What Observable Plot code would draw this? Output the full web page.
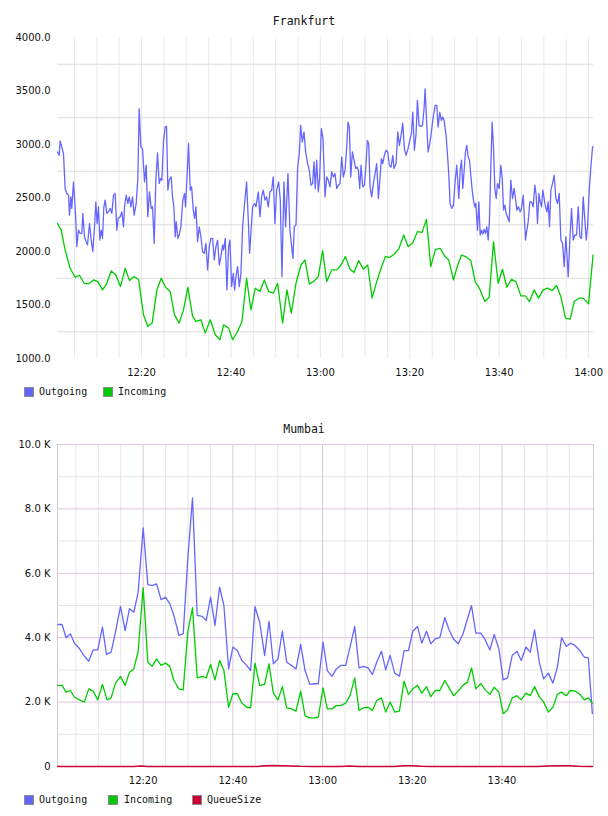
<!DOCTYPE html>
<html><head><meta charset="utf-8">
<script src="https://cdn.jsdelivr.net/npm/d3@7"></script>
<script src="https://cdn.jsdelivr.net/npm/@observablehq/plot@0.6"></script>
<style>
body{margin:0;background:#fff;width:608px;height:816px;position:relative;overflow:hidden;font-family:"DejaVu Sans Mono",monospace;color:#111;}
.title{position:absolute;left:0;width:608px;text-align:center;font-size:11.5px;line-height:14px;}
.chart{position:absolute;left:0;}
.sw{position:absolute;width:8px;height:8px;border:1px solid #8a8a8a;}
.lt{position:absolute;font-size:10px;line-height:10px;white-space:pre;}
</style></head><body>
<div class="title" style="top:14px">Frankfurt</div>
<div id="c1" class="chart" style="top:30px"></div>
<div class="sw" style="left:24px;top:387px;background:#6666ff"></div><div class="lt" style="left:39px;top:387px">Outgoing</div>
<div class="sw" style="left:103px;top:387px;background:#00cc00"></div><div class="lt" style="left:118px;top:387px">Incoming</div>
<div class="title" style="top:422px">Mumbai</div>
<div id="c2" class="chart" style="top:437px"></div>
<div class="sw" style="left:24px;top:795px;background:#6666ff"></div><div class="lt" style="left:39px;top:795px">Outgoing</div>
<div class="sw" style="left:108px;top:795px;background:#00cc00"></div><div class="lt" style="left:124px;top:795px">Incoming</div>
<div class="sw" style="left:192px;top:795px;background:#cc0033"></div><div class="lt" style="left:207px;top:795px">QueueSize</div>
<script>
// minutes after 12:00, value
const frankfurtOutgoing = [
[1.2,2930],[1.57,2899],[1.79,3033],[2.16,2977],[2.54,2915],[2.91,2589],[3.28,2542],[3.66,2526],[3.88,2340],[4.18,2511],[4.4,2402],[4.78,2651],[5.0,2511],[5.3,2293],[5.52,2045],[5.9,2200],[6.27,2169],[6.64,2169],[6.87,2356],[7.24,2138],[7.61,2092],[7.91,2061],[8.36,2262],[8.73,2107],[9.1,1998],[9.48,2231],[9.77,2464],[10.07,2262],[10.37,2418],[10.67,2107],[10.97,2200],[11.27,2123],[11.57,2418],[11.86,2480],[12.24,2356],[12.61,2371],[12.98,2402],[13.36,2356],[13.73,2526],[14.1,2542],[14.47,2200],[14.77,2309],[15.22,2325],[15.59,2371],[15.97,2231],[16.19,2418],[16.56,2526],[16.94,2449],[17.24,2511],[17.61,2418],[17.98,2511],[18.35,2340],[18.8,2449],[19.17,2682],[19.47,3334],[19.85,2977],[20.22,2961],[20.67,2651],[21.04,2806],[21.41,2325],[21.78,2558],[22.16,2402],[22.46,2418],[22.83,2076],[23.2,2666],[23.58,2921],[23.95,2635],[24.25,2682],[24.55,2666],[24.92,3039],[25.29,3163],[25.59,3169],[25.89,2573],[26.19,2666],[26.63,2697],[26.93,2511],[27.23,2418],[27.53,2138],[27.75,2278],[28.13,2123],[28.42,2154],[28.8,2231],[29.24,2480],[29.62,2542],[29.84,2418],[30.14,2666],[30.51,3008],
[30.9,2573],[31.2,2604],[31.57,2387],[31.87,2309],[32.16,2418],[32.54,2092],[32.91,2231],[33.28,2138],[33.66,1998],[34.03,1983],[34.4,2076],[34.78,1828],[35.15,2045],[35.52,2123],[35.9,2123],[36.27,1921],[36.64,2045],[37.01,2107],[37.39,1874],[37.76,1952],[38.13,2061],[38.36,2014],[38.73,2123],[39.1,1641],[39.48,2045],[39.77,2107],[40.15,1672],[40.52,1796],[40.82,1641],[41.12,1765],[41.49,1859],[41.86,1672],[42.24,1796],[42.61,2231],[42.98,2418],[43.5,2651],[43.88,2293],[44.18,1983],[44.55,2231],[44.85,2418],[45.29,2449],[45.59,2418],[46.12,2558],[46.49,2325],[46.86,2511],[47.23,2573],[47.61,2480],[47.98,2511],[48.35,2418],[48.73,2558],[49.1,2573],[49.47,2697],[49.84,2262],[50.22,2573],[50.67,2651],[51.04,2480],[51.41,1765],[51.86,2651],[52.23,2231],[52.75,2728],[53.2,2200],[53.58,2045],[53.87,1936],[54.17,2231],[54.55,2247],[54.92,2790],[55.29,2915],[55.59,3179],[55.96,3023],[56.34,3117],[56.71,2930],[57.16,2822],[57.53,2759],[57.9,2620],[58.27,2635],[58.57,2837],[58.87,2589],[59.17,2853],[59.54,2558],[59.84,2682],[60.21,3148],[60.59,3054],
[61.05,2511],[61.42,2697],[61.79,2666],[62.16,2604],[62.54,2744],[62.91,2697],[63.28,2728],[63.66,2589],[64.03,2620],[64.4,2635],[64.78,2884],[65.15,2697],[65.52,2759],[65.9,2977],[66.19,3210],[66.49,3163],[66.79,2697],[67.16,2930],[67.54,2853],[67.91,2775],[68.21,2790],[68.51,2759],[68.8,2589],[69.1,2806],[69.48,2604],[69.85,2620],[70.22,2822],[70.52,3039],[70.82,3008],[71.12,2604],[71.49,2511],[71.86,2635],[72.24,2728],[72.61,2822],[72.98,2495],[73.36,2697],[73.65,2868],[73.95,2822],[74.32,2899],[74.7,2946],[75.07,2930],[75.44,2806],[75.82,2790],[76.19,2899],[76.49,2775],[76.94,2822],[77.31,3117],[77.68,2992],[78.06,3086],[78.43,3200],[78.8,2961],[79.17,2899],[79.62,2961],[80.0,3039],[80.37,3101],[80.67,3303],[81.04,2946],[81.41,3101],[81.71,3412],[82.08,3179],[82.46,3169],[82.83,3179],[83.2,3334],[83.43,3520],[83.8,3194],[84.1,2930],[84.47,3008],[84.84,3117],[85.14,3225],[85.66,3365],[86.04,3365],[86.34,3163],[86.71,3303],[87.08,3225],[87.38,3256],[87.68,3225],[88.13,3086],[88.42,2915],[88.72,2728],[89.02,2449],[89.39,2402],[89.77,2433],[90.14,2651],[90.51,2806],
[90.97,2495],[91.27,2759],[91.57,2853],[91.87,2589],[92.17,2759],[92.46,2930],[92.76,2992],[93.06,2884],[93.36,2853],[93.66,2713],[93.96,2573],[94.25,2480],[94.55,2418],[94.78,2449],[95.15,2200],[95.45,2464],[95.75,2154],[96.04,2200],[96.34,2163],[96.64,2206],[96.94,2169],[97.24,2231],[97.54,2107],[97.83,2293],[98.13,2790],[98.43,3210],[98.73,2977],[99.03,2589],[99.33,2495],[99.62,2635],[100.0,2589],[100.37,2806],[100.67,2697],[100.97,2387],[101.27,2433],[101.56,2356],[101.86,2325],[102.24,2278],[102.61,2666],[102.98,2495],[103.36,2589],[103.65,2495],[103.95,2387],[104.32,2418],[104.7,2371],[104.99,2402],[105.37,2526],[105.67,2293],[105.89,2107],[106.19,2200],[106.49,2278],[106.86,2464],[107.23,2464],[107.61,2418],[107.98,2620],[108.28,2526],[108.58,2262],[108.88,2542],[109.17,2464],[109.47,2418],[109.77,2573],[110.22,2449],[110.67,2371],[110.96,2464],[111.26,2231],[111.56,2573],[111.93,2635],[112.31,2713],[112.68,2495],[113.05,2449],[113.43,2542],[113.8,2107],[114.17,2076],[114.55,1859],[114.92,2138],[115.44,1765],[115.81,2107],[116.19,2402],[116.56,2107],[116.93,2154],[117.31,2154],[117.68,2418],[118.05,2138],[118.42,2123],[118.8,2511],[119.17,2293],[119.47,2107],[119.77,2231],[120.14,2573],[120.51,2790],[120.89,2977],[121.05,2977]
];
const frankfurtIncoming = [
[1.2,2262],[2.02,2200],[2.91,2014],[4.03,1843],[5.15,1759],[6.12,1778],[7.16,1703],[8.13,1697],[9.25,1734],[10.22,1719],[11.27,1641],[12.24,1703],[13.21,1818],[14.25,1781],[15.29,1672],[16.34,1843],[17.31,1728],[18.28,1765],[19.32,1741],[20.44,1408],[21.41,1300],[22.38,1331],[23.43,1641],[24.4,1750],[25.37,1666],[26.41,1626],[27.38,1408],[28.42,1331],[29.39,1455],[30.36,1666],[31.42,1393],[32.16,1346],[33.28,1362],[34.25,1237],[35.37,1362],[36.49,1222],[37.54,1175],[38.36,1315],[39.48,1284],[40.37,1175],[41.49,1253],[42.46,1346],[43.5,1750],[44.47,1455],[45.44,1657],[46.49,1626],[47.46,1734],[48.43,1626],[49.47,1610],[50.44,1703],[51.56,1331],[52.53,1641],[53.5,1424],[54.55,1703],[55.66,1874],[56.56,1921],[57.53,1697],[58.5,1719],[59.54,1765],[60.51,2008],[61.42,1719],[62.54,1828],[63.66,1828],[64.63,1874],[65.6,1952],[66.64,1834],[67.54,1803],[68.58,1915],[69.63,1834],[70.6,1874],[71.57,1564],[72.61,1719],[73.58,1843],[74.55,1952],[75.59,1946],[76.56,1977],[77.61,2030],[78.65,2154],[79.62,2045],[80.67,2082],[81.71,2185],[82.75,2179],[83.73,2300],[84.7,1859],[85.74,2020],[86.78,2030],[87.75,1961],[88.72,1921],[89.77,1734],[90.67,1865],[91.57,1967],[92.54,1952],[93.66,1915],[94.63,1719],[95.67,1648],[96.79,1532],[97.76,1573],[98.73,2092],[99.77,1703],[100.74,1834],[101.71,1666],[102.76,1741],[103.73,1719],[104.85,1585],[105.82,1585],[106.79,1532],[107.83,1641],[108.8,1564],[109.84,1641],[110.81,1657],[111.86,1635],[112.83,1682],[113.8,1579],[114.84,1377],[115.89,1368],[116.78,1532],[117.83,1564],[118.8,1564],[119.99,1511],[121.0,1967]
];
const mumbaiOutgoing = [
[0.95,4410],[1.92,4410],[2.81,4000],[3.78,4120],[4.67,3830],[5.64,3690],[6.76,3450],[7.87,3270],[8.84,3620],[9.88,3620],[10.92,4330],[11.82,3480],[12.86,3550],[13.82,4170],[14.94,4970],[15.98,4220],[16.95,4900],[17.92,4790],[18.88,5410],[20.0,7410],[21.04,5650],[22.0,5620],[22.98,5670],[24.0,5180],[24.99,5260],[25.95,5050],[26.85,4690],[27.96,4070],[28.93,4120],[29.97,6500],[31.0,8340],[32.05,4690],[33.17,4660],[34.06,4530],[35.03,5260],[36.0,4380],[37.04,5570],[38.0,5000],[39.05,3030],[40.0,3710],[40.98,3600],[42.0,3290],[43.07,3140],[43.96,2980],[44.93,4970],[45.97,4480],[47.08,3450],[48.05,4510],[49.02,3190],[50.06,3340],[51.03,4200],[52.0,3240],[53.04,3140],[54.08,3030],[55.12,3790],[56.09,2980],[57.15,2550],[58.09,2570],[59.05,2570],[60.1,3860],[61.06,2980],[62.1,2800],[63.07,3030],[64.04,3140],[65.15,3140],[66.12,3710],[67.16,4350],[68.13,3060],[69.1,3110],[70.14,3060],[71.11,2860],[72.07,3240],[73.12,3580],[74.08,3000],[75.05,3450],[76.09,2900],[77.13,2800],[78.18,3600],[79.14,3600],[80.11,4200],[81.15,4350],[82.12,3830],[83.16,4200],[84.13,3810],[85.1,3960],[86.14,4000],[87.25,4620],[88.22,4240],[89.19,3960],[90.23,3810],[91.27,4100],[92.31,4590],[93.2,5000],[94.17,4140],[95.29,4140],[96.26,3930],[97.3,3620],[98.26,4100],[99.31,3650],[100.27,2690],[101.24,2750],[102.28,3450],[103.33,3580],[104.29,3290],[105.33,3710],[106.3,3550],[107.27,4240],[108.31,3240],[109.28,2720],[110.32,2900],[111.36,2590],[112.33,3080],[113.3,4000],[114.34,3730],[115.23,3830],[116.27,3760],[117.24,3620],[118.35,3400],[119.25,3370],[120.15,1640]
];
const mumbaiIncoming = [
[0.95,2520],[1.92,2520],[2.81,2310],[3.78,2360],[4.67,2150],[5.79,2070],[6.9,2000],[7.87,2410],[8.84,2340],[9.88,2070],[10.92,2550],[11.96,2070],[12.86,2130],[13.82,2590],[14.94,2800],[15.98,2520],[16.95,2930],[17.92,3030],[18.88,3580],[20.0,5550],[21.04,3240],[22.0,3110],[22.98,3340],[24.0,3140],[24.99,3210],[25.95,3110],[26.85,2670],[27.96,2410],[28.93,2380],[29.97,4200],[31.0,4930],[32.05,2750],[33.17,2800],[34.06,2750],[35.03,3170],[36.0,2690],[37.04,3290],[38.0,2980],[39.05,1840],[40.0,2260],[40.98,2260],[42.0,1970],[43.07,1840],[43.96,1820],[44.93,3210],[45.97,2520],[47.08,2550],[48.05,3190],[49.02,2280],[50.06,2070],[51.03,2480],[52.0,1820],[53.04,1790],[54.08,1720],[55.12,2340],[56.08,1580],[57.12,1510],[58.09,1510],[59.05,1530],[60.1,2440],[61.06,1790],[62.1,1790],[63.07,1890],[64.04,1890],[65.15,1970],[66.12,2200],[67.16,2750],[68.13,1740],[69.1,1820],[70.14,1840],[71.11,1740],[72.07,2050],[73.12,2130],[74.08,1690],[75.05,2000],[76.09,1690],[77.13,1720],[78.18,2650],[79.14,2240],[80.11,2410],[81.15,2520],[82.12,2280],[83.16,2480],[84.13,2170],[85.1,2360],[86.14,2360],[87.25,2670],[88.22,2440],[89.19,2200],[90.23,2340],[91.27,2520],[92.31,2620],[93.2,3060],[94.17,2410],[95.29,2570],[96.26,2380],[97.3,2240],[98.26,2460],[99.31,2310],[100.27,1640],[101.24,1760],[102.28,2130],[103.33,2200],[104.29,2070],[105.33,2280],[106.3,2200],[107.27,2480],[108.31,2170],[109.28,2000],[110.32,1690],[111.36,1840],[112.33,2240],[113.3,2310],[114.34,2200],[115.23,2360],[116.27,2340],[117.24,2260],[118.35,2070],[119.25,2130],[120.15,1970]
];
const mumbaiQueueSize = [
[0.95,0],[18,0],[19.5,12],[21,0],[45.5,0],[47,25],[49,30],[51,25],[53,15],[55,5],[58,0],[64,0],[66,12],[68,0],[76,0],[78,20],[80,20],[82,5],[84,0],[108,0],[110,15],[113,25],[115,20],[117,5],[119,0],[120.15,0]
];
const timeLabelsFrankfurt = [20,40,60,80,100,120];
const timeLabelsMumbai = [20,40,60,80,100];
const fiveMinuteGrid = [5,10,15,20,25,30,35,40,45,50,55,60,65,70,75,80,85,90,95,100,105,110,115,120];
const frankfurtTicksY = [1000,1500,2000,2500,3000,3500,4000];
const frankfurtGridY = [1250,1750,2250,2750,3250,3750];
const mumbaiTicksY = [0,2000,4000,6000,8000,10000];
const mumbaiMinorY = [1000,3000,5000,7000,9000];

const base = new Date(2024,0,1,12,0,0);
const T = m => new Date(+base + m*60000);
const rows = (arr) => arr.map(([m,v]) => ({t:T(m), v}));
const fmtT = d3.timeFormat("%H:%M");
const OUT = "#6666ff", INC = "#00cc00", Q = "#cc0033";
const PINK = "#ddc5dd", GRAY = "#e6e6e6";
const style = {fontFamily:"'DejaVu Sans', sans-serif", fontSize:"10px", color:"#111", background:"transparent", overflow:"visible"};

const c1 = Plot.plot({
  width:608, height:353, marginLeft:57, marginRight:15, marginTop:7, marginBottom:25,
  style,
  x:{type:"time", domain:[T(1.2), T(121.1)]},
  y:{domain:[1000,4000]},
  marks:[
    Plot.ruleX(fiveMinuteGrid.map(T), {stroke:"#e9e9e9", strokeWidth:1}),
    Plot.ruleY(frankfurtGridY, {stroke:"#dcdcdc", strokeWidth:1}),
    Plot.axisY(frankfurtTicksY, {tickSize:0, tickPadding:7, tickFormat:d=>d.toFixed(1), label:null}),
    Plot.axisX(timeLabelsFrankfurt.map(T), {tickSize:0, tickPadding:10, tickFormat:fmtT, label:null}),
    Plot.line(rows(frankfurtOutgoing), {x:"t", y:"v", stroke:OUT, strokeWidth:1.3}),
    Plot.line(rows(frankfurtIncoming), {x:"t", y:"v", stroke:INC, strokeWidth:1.3})
  ]
});
document.getElementById("c1").append(c1);

const majorSet = new Set([20,40,60,80,100]);
const c2 = Plot.plot({
  width:608, height:354, marginLeft:57, marginRight:15, marginTop:7, marginBottom:25,
  style,
  x:{type:"time", domain:[T(0.9), T(120.4)]},
  y:{domain:[0,10000]},
  marks:[
    Plot.ruleX(fiveMinuteGrid.filter(m=>m<120 && !majorSet.has(m)).map(T), {stroke:GRAY}),
    Plot.ruleY(mumbaiMinorY, {stroke:GRAY}),
    Plot.ruleX(timeLabelsMumbai.map(T), {stroke:PINK}),
    Plot.ruleY(mumbaiTicksY.filter(v=>v>0 && v<10000), {stroke:PINK}),
    Plot.frame({stroke:PINK}),
    Plot.axisY(mumbaiTicksY, {tickSize:0, tickPadding:7, tickFormat:d=>d===0?"0":(d/1000).toFixed(1)+" K", label:null}),
    Plot.axisX(timeLabelsMumbai.map(T), {tickSize:0, tickPadding:10, tickFormat:fmtT, label:null}),
    Plot.line(rows(mumbaiOutgoing), {x:"t", y:"v", stroke:OUT, strokeWidth:1.3}),
    Plot.line(rows(mumbaiIncoming), {x:"t", y:"v", stroke:INC, strokeWidth:1.3}),
    Plot.line(rows(mumbaiQueueSize), {x:"t", y:"v", stroke:Q, strokeWidth:1.5})
  ]
});
document.getElementById("c2").append(c2);
</script>
</body></html>
